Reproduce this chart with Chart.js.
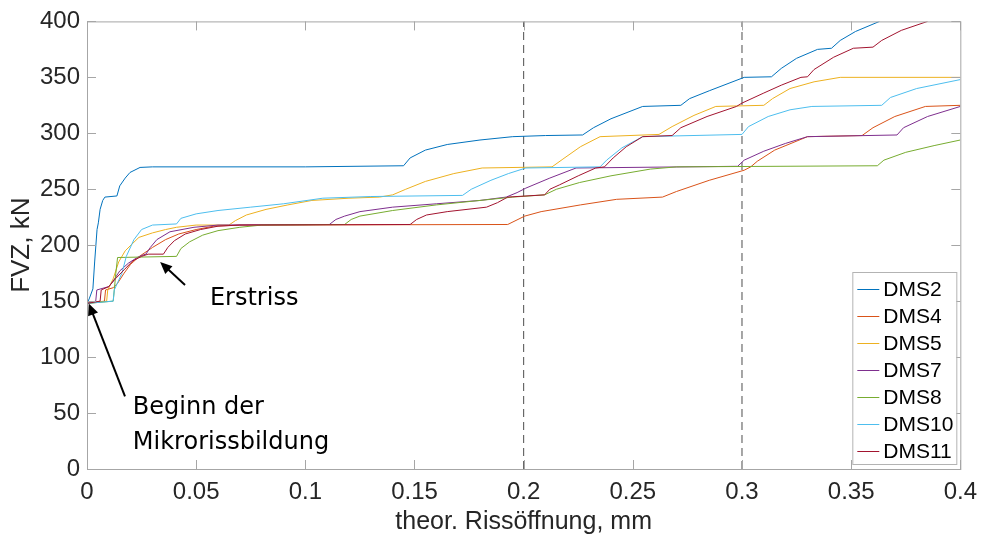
<!DOCTYPE html>
<html>
<head>
<meta charset="utf-8">
<script src="https://cdn.jsdelivr.net/npm/chart.js@4.4.1/dist/chart.umd.min.js"></script>
<style>
  html, body { margin: 0; padding: 0; background: #fff; }
  canvas { display: block; }
</style>
</head>
<body>
<canvas id="chart" width="986" height="543"></canvas>
<script>
// FVZ over theoretical crack opening, strain gauges DMS2..DMS11

const seriesNames = ['DMS2', 'DMS4', 'DMS5', 'DMS7', 'DMS8', 'DMS10', 'DMS11'];
const seriesColors = ['#0072BD', '#D95319', '#EDB120', '#7E2F8E', '#77AC30', '#4DBEEE', '#A2142F'];

const xTickLabels = ['0', '0.05', '0.1', '0.15', '0.2', '0.25', '0.3', '0.35', '0.4'];
const yTickLabels = ['0', '50', '100', '150', '200', '250', '300', '350', '400'];
const markerLines = [0.2, 0.3];

// [crack opening mm, force kN]
const dms2 = [[0,148],[0.001,152],[0.0027,161],[0.0035,185],[0.0046,214],[0.0052,220],[0.006,232],[0.0072,240],[0.0082,243],
  [0.0137,244],[0.015,253],[0.0175,260],[0.0197,265],[0.0243,269.5],[0.03,270],[0.1,270],[0.145,271],[0.148,278],[0.155,285],
  [0.165,290],[0.18,294],[0.195,297],[0.21,298],[0.227,298.5],[0.232,305],[0.24,313],[0.2545,324],[0.272,325],[0.276,331],
  [0.285,338],[0.301,350],[0.3135,350.5],[0.318,358],[0.325,367],[0.3346,375],[0.341,376],[0.345,383],[0.352,391],[0.363,400]];
const dms4 = [[0,148],[0.008,150],[0.0085,160],[0.012,162],[0.014,166],[0.017,175],[0.02,183],[0.024,190],[0.03,198],[0.036,205],
  [0.042,210],[0.05,214],[0.058,217],[0.07,218],[0.1927,218.5],[0.2005,226],[0.208,230],[0.226,236],[0.2426,241],[0.2636,243],
  [0.27,248],[0.285,258],[0.301,267],[0.304,270],[0.307,275],[0.315,285],[0.33,297],[0.355,298],[0.36,305],[0.37,315],
  [0.384,324],[0.4,325]];
const dms5 = [[0,148],[0.009,150],[0.0095,160],[0.012,170],[0.0145,185],[0.0175,195],[0.0206,201],[0.0238,207],[0.03,211],
  [0.036,214],[0.041,216],[0.05,218],[0.065,218],[0.068,222],[0.073,227],[0.082,232],[0.092,236],[0.103,240],[0.12,242],
  [0.134,243],[0.14,245],[0.146,250],[0.155,257],[0.168,264],[0.181,269],[0.213,270],[0.218,277],[0.226,288],[0.235,297],
  [0.262,299],[0.268,306],[0.278,316],[0.288,324],[0.31,325],[0.314,331],[0.322,340],[0.333,346],[0.345,350],[0.4,350]];
const dms7 = [[0,148],[0.004,150],[0.0045,160],[0.01,163],[0.012,168],[0.015,177],[0.019,184],[0.023,189],[0.026,191.5],
  [0.027,192],[0.029,198],[0.032,205],[0.038,212],[0.049,216],[0.06,218],[0.111,218.5],[0.114,223],[0.118,226],[0.125,230],
  [0.14,234],[0.16,237],[0.18,240],[0.192,243],[0.197,247],[0.201,251],[0.212,260],[0.224,269],[0.298,270.5],[0.301,276],
  [0.31,284],[0.32,291],[0.33,297],[0.371,298.5],[0.374,305],[0.385,315],[0.4,324]];
const dms8 = [[0,148],[0.012,150],[0.0125,160],[0.0132,175],[0.014,189],[0.041,190],[0.043,197],[0.047,203],[0.053,209],
  [0.06,213],[0.07,216],[0.08,218],[0.118,218.5],[0.121,223],[0.125,226],[0.14,231],[0.16,236],[0.18,240],[0.195,243],
  [0.2096,245],[0.215,250],[0.2256,256],[0.24,262],[0.258,268],[0.27,270],[0.362,271],[0.365,276],[0.375,283],[0.388,289],
  [0.4,294]];
const dms10 = [[0,148],[0.012,150],[0.0125,160],[0.016,175],[0.018,190],[0.0215,205],[0.025,214],[0.03,218],[0.041,219],
  [0.043,224],[0.05,228],[0.06,231],[0.075,234],[0.09,237],[0.108,242],[0.13,243.5],[0.172,244.5],[0.176,250],[0.185,258],
  [0.193,264],[0.201,269],[0.235,270],[0.238,276],[0.245,287],[0.2545,297],[0.3,299],[0.303,306],[0.312,315],[0.322,321],
  [0.332,324],[0.364,325],[0.368,332],[0.38,340],[0.4,348]];
const dms11 = [[0,148],[0.006,150],[0.0065,160],[0.01,163],[0.013,170],[0.017,178],[0.021,186],[0.025,190],[0.028,192],
  [0.035,192],[0.037,198],[0.04,204],[0.045,210],[0.052,214],[0.06,217],[0.07,218],[0.148,218.5],[0.151,223],[0.1555,227],
  [0.165,230],[0.183,234],[0.188,238],[0.1927,243],[0.2096,245],[0.212,250],[0.2165,254],[0.225,262],[0.233,269],[0.237,270],
  [0.241,278],[0.247,288],[0.2545,297],[0.268,298],[0.272,305],[0.284,315],[0.2975,324],[0.3,327],[0.31,336],[0.318,343],
  [0.327,350],[0.33,350.5],[0.333,357],[0.342,368],[0.351,376],[0.36,377],[0.364,383],[0.373,392],[0.385,400]];

const seriesData = [dms2, dms4, dms5, dms7, dms8, dms10, dms11];

// text annotations: arrow tail -> tip and label lines (data units)
const notes = [
  { tail: [0.0449, 164.5], tip: [0.0335, 185], text: ['Erstriss'], at: [0.0563, 152] },
  { tail: [0.0174, 65], tip: [0.0008, 148], text: ['Beginn der', 'Mikrorissbildung'], at: [0.021, 55] }
];

const TXT = '#262626';
const AXIS = '#a6a6a6';
const FONT = '"Liberation Sans", Arial, sans-serif';

const datasets = seriesData.map((d, i) => ({
  label: seriesNames[i],
  data: d.map(p => ({ x: p[0], y: p[1] })),
  borderColor: seriesColors[i],
  borderWidth: 1,
  pointRadius: 0,
  tension: 0,
  fill: false,
  order: seriesNames.length - i
}));
markerLines.forEach(v => datasets.push({
  label: 'marker',
  data: [{ x: v, y: 0 }, { x: v, y: 400 }],
  borderColor: '#4d4d4d',
  borderWidth: 1,
  borderDash: [8, 5],
  pointRadius: 0,
  order: 20
}));

const frame = {
  id: 'frame',
  afterDraw(chart) {
    const { ctx, chartArea: a, scales: { x, y } } = chart;
    ctx.save();
    ctx.strokeStyle = AXIS;
    ctx.lineWidth = 1;
    ctx.strokeRect(a.left + 0.5, a.top + 0.5, a.right - a.left, a.bottom - a.top);
    ctx.beginPath();
    for (let i = 0; i < xTickLabels.length; i++) {
      const px = Math.round(x.getPixelForValue(i * 0.05)) + 0.5;
      ctx.moveTo(px, a.bottom); ctx.lineTo(px, a.bottom - 9);
      ctx.moveTo(px, a.top); ctx.lineTo(px, a.top + 9);
    }
    for (let i = 0; i < yTickLabels.length; i++) {
      const py = Math.round(y.getPixelForValue(i * 50)) + 0.5;
      ctx.moveTo(a.left, py); ctx.lineTo(a.left + 9, py);
      ctx.moveTo(a.right, py); ctx.lineTo(a.right - 9, py);
    }
    ctx.stroke();

    // legend box, bottom right inside the axes
    const bw = 104, bh = 192, rowH = 27;
    const bx = a.right - 4 - bw, by = a.bottom - 5 - bh;
    ctx.fillStyle = '#fff';
    ctx.fillRect(bx, by, bw, bh);
    ctx.strokeStyle = '#b3b3b3';
    ctx.strokeRect(bx + 0.5, by + 0.5, bw, bh);
    ctx.font = '21px ' + FONT;
    ctx.textBaseline = 'middle';
    seriesNames.forEach((name, i) => {
      const cy = by + 17 + i * rowH;
      ctx.strokeStyle = seriesColors[i];
      ctx.beginPath();
      ctx.moveTo(bx + 5, cy + 0.5); ctx.lineTo(bx + 27, cy + 0.5);
      ctx.stroke();
      ctx.fillStyle = '#000';
      ctx.fillText(name, bx + 31, cy + 1);
    });

    // annotations
    ctx.strokeStyle = '#000';
    ctx.fillStyle = '#000';
    ctx.lineWidth = 2;
    notes.forEach(n => {
      const x0 = x.getPixelForValue(n.tail[0]), y0 = y.getPixelForValue(n.tail[1]);
      const x1 = x.getPixelForValue(n.tip[0]), y1 = y.getPixelForValue(n.tip[1]);
      const ang = Math.atan2(y1 - y0, x1 - x0);
      const hl = 13, hw = 0.42;
      ctx.beginPath();
      ctx.moveTo(x0, y0);
      ctx.lineTo(x1 - Math.cos(ang) * 6, y1 - Math.sin(ang) * 6);
      ctx.stroke();
      ctx.beginPath();
      ctx.moveTo(x1, y1);
      ctx.lineTo(x1 - hl * Math.cos(ang - hw), y1 - hl * Math.sin(ang - hw));
      ctx.lineTo(x1 - hl * Math.cos(ang + hw), y1 - hl * Math.sin(ang + hw));
      ctx.closePath();
      ctx.fill();
      ctx.font = '24px "DejaVu Sans", Verdana, sans-serif';
      ctx.textBaseline = 'middle';
      ctx.textAlign = 'left';
      const tx = x.getPixelForValue(n.at[0]), ty = y.getPixelForValue(n.at[1]);
      n.text.forEach((t, k) => ctx.fillText(t, tx, ty + k * 35));
    });
    ctx.restore();
  }
};

const ctx = document.getElementById('chart').getContext('2d');
const chart = new Chart(ctx, {
  type: 'line',
  data: { datasets },
  options: {
    responsive: false,
    animation: false,
    devicePixelRatio: 1,
    layout: { padding: { top: 17, right: 25, left: 0, bottom: 0 } },
    plugins: { legend: { display: false }, tooltip: { enabled: false } },
    scales: {
      x: {
        type: 'linear', min: 0, max: 0.4,
        grid: { display: false, drawTicks: false }, border: { display: false },
        ticks: {
          stepSize: 0.05, padding: 9, color: TXT, maxRotation: 0, autoSkip: false,
          font: { family: FONT, size: 24 },
          callback: (v, i) => xTickLabels[i]
        },
        title: {
          display: true, text: 'theor. Rissöffnung, mm', color: TXT,
          font: { family: FONT, size: 25 },
          padding: { top: 0, bottom: 6 }
        },
        afterFit: s => { s.height = 74; }
      },
      y: {
        min: 0, max: 400,
        grid: { display: false, drawTicks: false }, border: { display: false },
        ticks: {
          stepSize: 50, padding: 7, color: TXT, autoSkip: false,
          font: { family: FONT, size: 24 },
          callback: (v, i) => yTickLabels[i]
        },
        title: {
          display: true, text: 'FVZ, kN', color: TXT,
          font: { family: FONT, size: 26 },
          padding: { top: 6, bottom: 0 }
        },
        afterFit: s => { s.width = 87; }
      }
    }
  },
  plugins: [frame]
});
</script>
</body>
</html>
